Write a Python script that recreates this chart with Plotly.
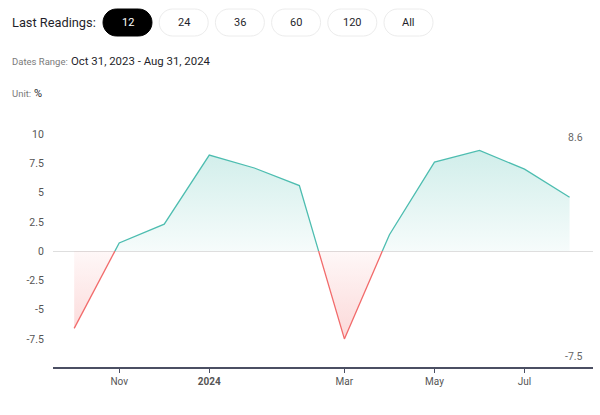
import plotly.graph_objects as go

# readings (last 12), in %
values = [-6.6, 0.7, 2.3, 8.2, 7.1, 5.6, -7.5, 1.4, 7.6, 8.6, 7.0, 4.6]
tick_idx = [1, 3, 6, 8, 10]
tick_text = ["Nov", "<b>2024</b>", "Mar", "May", "Jul"]
y_ticks = [10, 7.5, 5, 2.5, 0, -2.5, -5, -7.5]
buttons = ["12", "24", "36", "60", "120", "All"]
active_button = "12"
dates_range = "Oct 31, 2023 - Aug 31, 2024"
unit = "%"

green = "#4dbdb0"
red = "#f26b6b"
font = "Roboto"

# plot area in pixels
L, R, T, B = 53, 7, 120, 48
W, H = 600 - L - R, 415 - T - B


def px(x):
    return (x - L) / W


def py(y):
    return (415 - B - y) / H


def split_segments(ys):
    """Splits the series at zero crossings into positive / negative pieces"""
    segs = []
    cur_x, cur_y = [0], [ys[0]]
    sign = ys[0] >= 0
    for i in range(1, len(ys)):
        s = ys[i] >= 0
        if s != sign:
            x0 = i - 1 + ys[i - 1] / (ys[i - 1] - ys[i])
            cur_x.append(x0)
            cur_y.append(0)
            segs.append((sign, cur_x, cur_y))
            cur_x, cur_y = [x0], [0]
            sign = s
        cur_x.append(i)
        cur_y.append(ys[i])
    segs.append((sign, cur_x, cur_y))
    return segs


def pill(x0, x1, y0, y1):
    r = (y1 - y0) / 2
    k = 0.5523 * r
    cy = (y0 + y1) / 2
    a, b = x0 + r, x1 - r
    pts = [
        ("M", [(a, y0)]),
        ("L", [(b, y0)]),
        ("C", [(b + k, y0), (x1, cy - k), (x1, cy)]),
        ("C", [(x1, cy + k), (b + k, y1), (b, y1)]),
        ("L", [(a, y1)]),
        ("C", [(a - k, y1), (x0, cy + k), (x0, cy)]),
        ("C", [(x0, cy - k), (a - k, y0), (a, y0)]),
    ]
    path = ""
    for cmd, ps in pts:
        path += cmd + " ".join(f"{px(x):.5f},{py(y):.5f}" for x, y in ps) + " "
    return path + "Z"


fig = go.Figure()

vmax, vmin = max(values), min(values)
for positive, xs, ys in split_segments(values):
    color = green if positive else red
    if positive:
        grad = dict(type="vertical", start=0, stop=vmax,
                    colorscale=[[0, "rgba(77,189,176,0.05)"], [1, "rgba(77,189,176,0.26)"]])
    else:
        grad = dict(type="vertical", start=vmin, stop=0,
                    colorscale=[[0, "rgba(242,107,107,0.26)"], [1, "rgba(242,107,107,0.05)"]])
    fig.add_trace(go.Scatter(
        x=xs, y=ys, mode="lines",
        line=dict(color=color, width=1.3),
        fill="tozeroy", fillgradient=grad,
        hoverinfo="skip", showlegend=False,
    ))

shapes = []
annotations = []

# header: reading buttons
x_start, pitch, bw = 103, 56.2, 49
for i, b in enumerate(buttons):
    x0 = x_start + i * pitch
    active = b == active_button
    shapes.append(dict(
        type="path", xref="paper", yref="paper", path=pill(x0, x0 + bw, 9, 36),
        fillcolor="#000000" if active else "#ffffff",
        line=dict(color="#000000" if active else "#ececec", width=1),
    ))
    annotations.append(dict(
        x=px(x0 + bw / 2), y=py(22.5), xref="paper", yref="paper", text=b,
        showarrow=False, xanchor="center", yanchor="middle",
        font=dict(family=font, size=11, color="#ffffff" if active else "#1f1f2b"),
    ))

header_texts = [
    (10, 22.5, "Last Readings:", 12.8, "#1f1f2b"),
    (10, 61, "Dates Range:", 9.5, "#7a7a7a"),
    (69, 61, dates_range, 11.4, "#1f1f2b"),
    (10, 93, "Unit:", 9.5, "#7a7a7a"),
    (32, 93, unit, 11, "#1f1f2b"),
]
for x, y, text, size, color in header_texts:
    annotations.append(dict(
        x=px(x), y=py(y), xref="paper", yref="paper", text=text,
        showarrow=False, xanchor="left", yanchor="middle",
        font=dict(family=font, size=size, color=color),
    ))

# max / min labels at the right
for val, y in [(vmax, 137), (vmin, 356)]:
    annotations.append(dict(
        x=px(585), y=py(y), xref="paper", yref="paper", text=f"{val:g}",
        showarrow=False, xanchor="right", yanchor="middle",
        font=dict(family=font, size=10.5, color="#666666"),
    ))

fig.update_layout(
    width=600, height=415,
    margin=dict(l=L, r=R, t=T, b=B),
    paper_bgcolor="white",
    plot_bgcolor="white",
    font=dict(family=font, size=10.5, color="#555555"),
    xaxis=dict(
        range=[-0.47, 11.52], showgrid=False, zeroline=False,
        showline=True, linecolor="#4b4f63", linewidth=1.5,
        ticks="outside", ticklen=4, tickcolor="#4b4f63", tickwidth=1,
        tickvals=tick_idx, ticktext=tick_text,
        tickfont=dict(family=font, size=10, color="#555555"),
    ),
    yaxis=dict(
        range=[-9.9, 11.2], showgrid=False, showline=False,
        zeroline=True, zerolinecolor="#dedede", zerolinewidth=1,
        tickvals=y_ticks, ticktext=[f"{v:g}" for v in y_ticks],
        ticks="outside", ticklen=6, tickcolor="rgba(0,0,0,0)",
        tickfont=dict(family=font, size=10.5, color="#555555"),
    ),
    shapes=shapes,
    annotations=annotations,
)

fig.write_html("out.html", config={"displayModeBar": False},
               post_script="document.body.style.margin='0';")
